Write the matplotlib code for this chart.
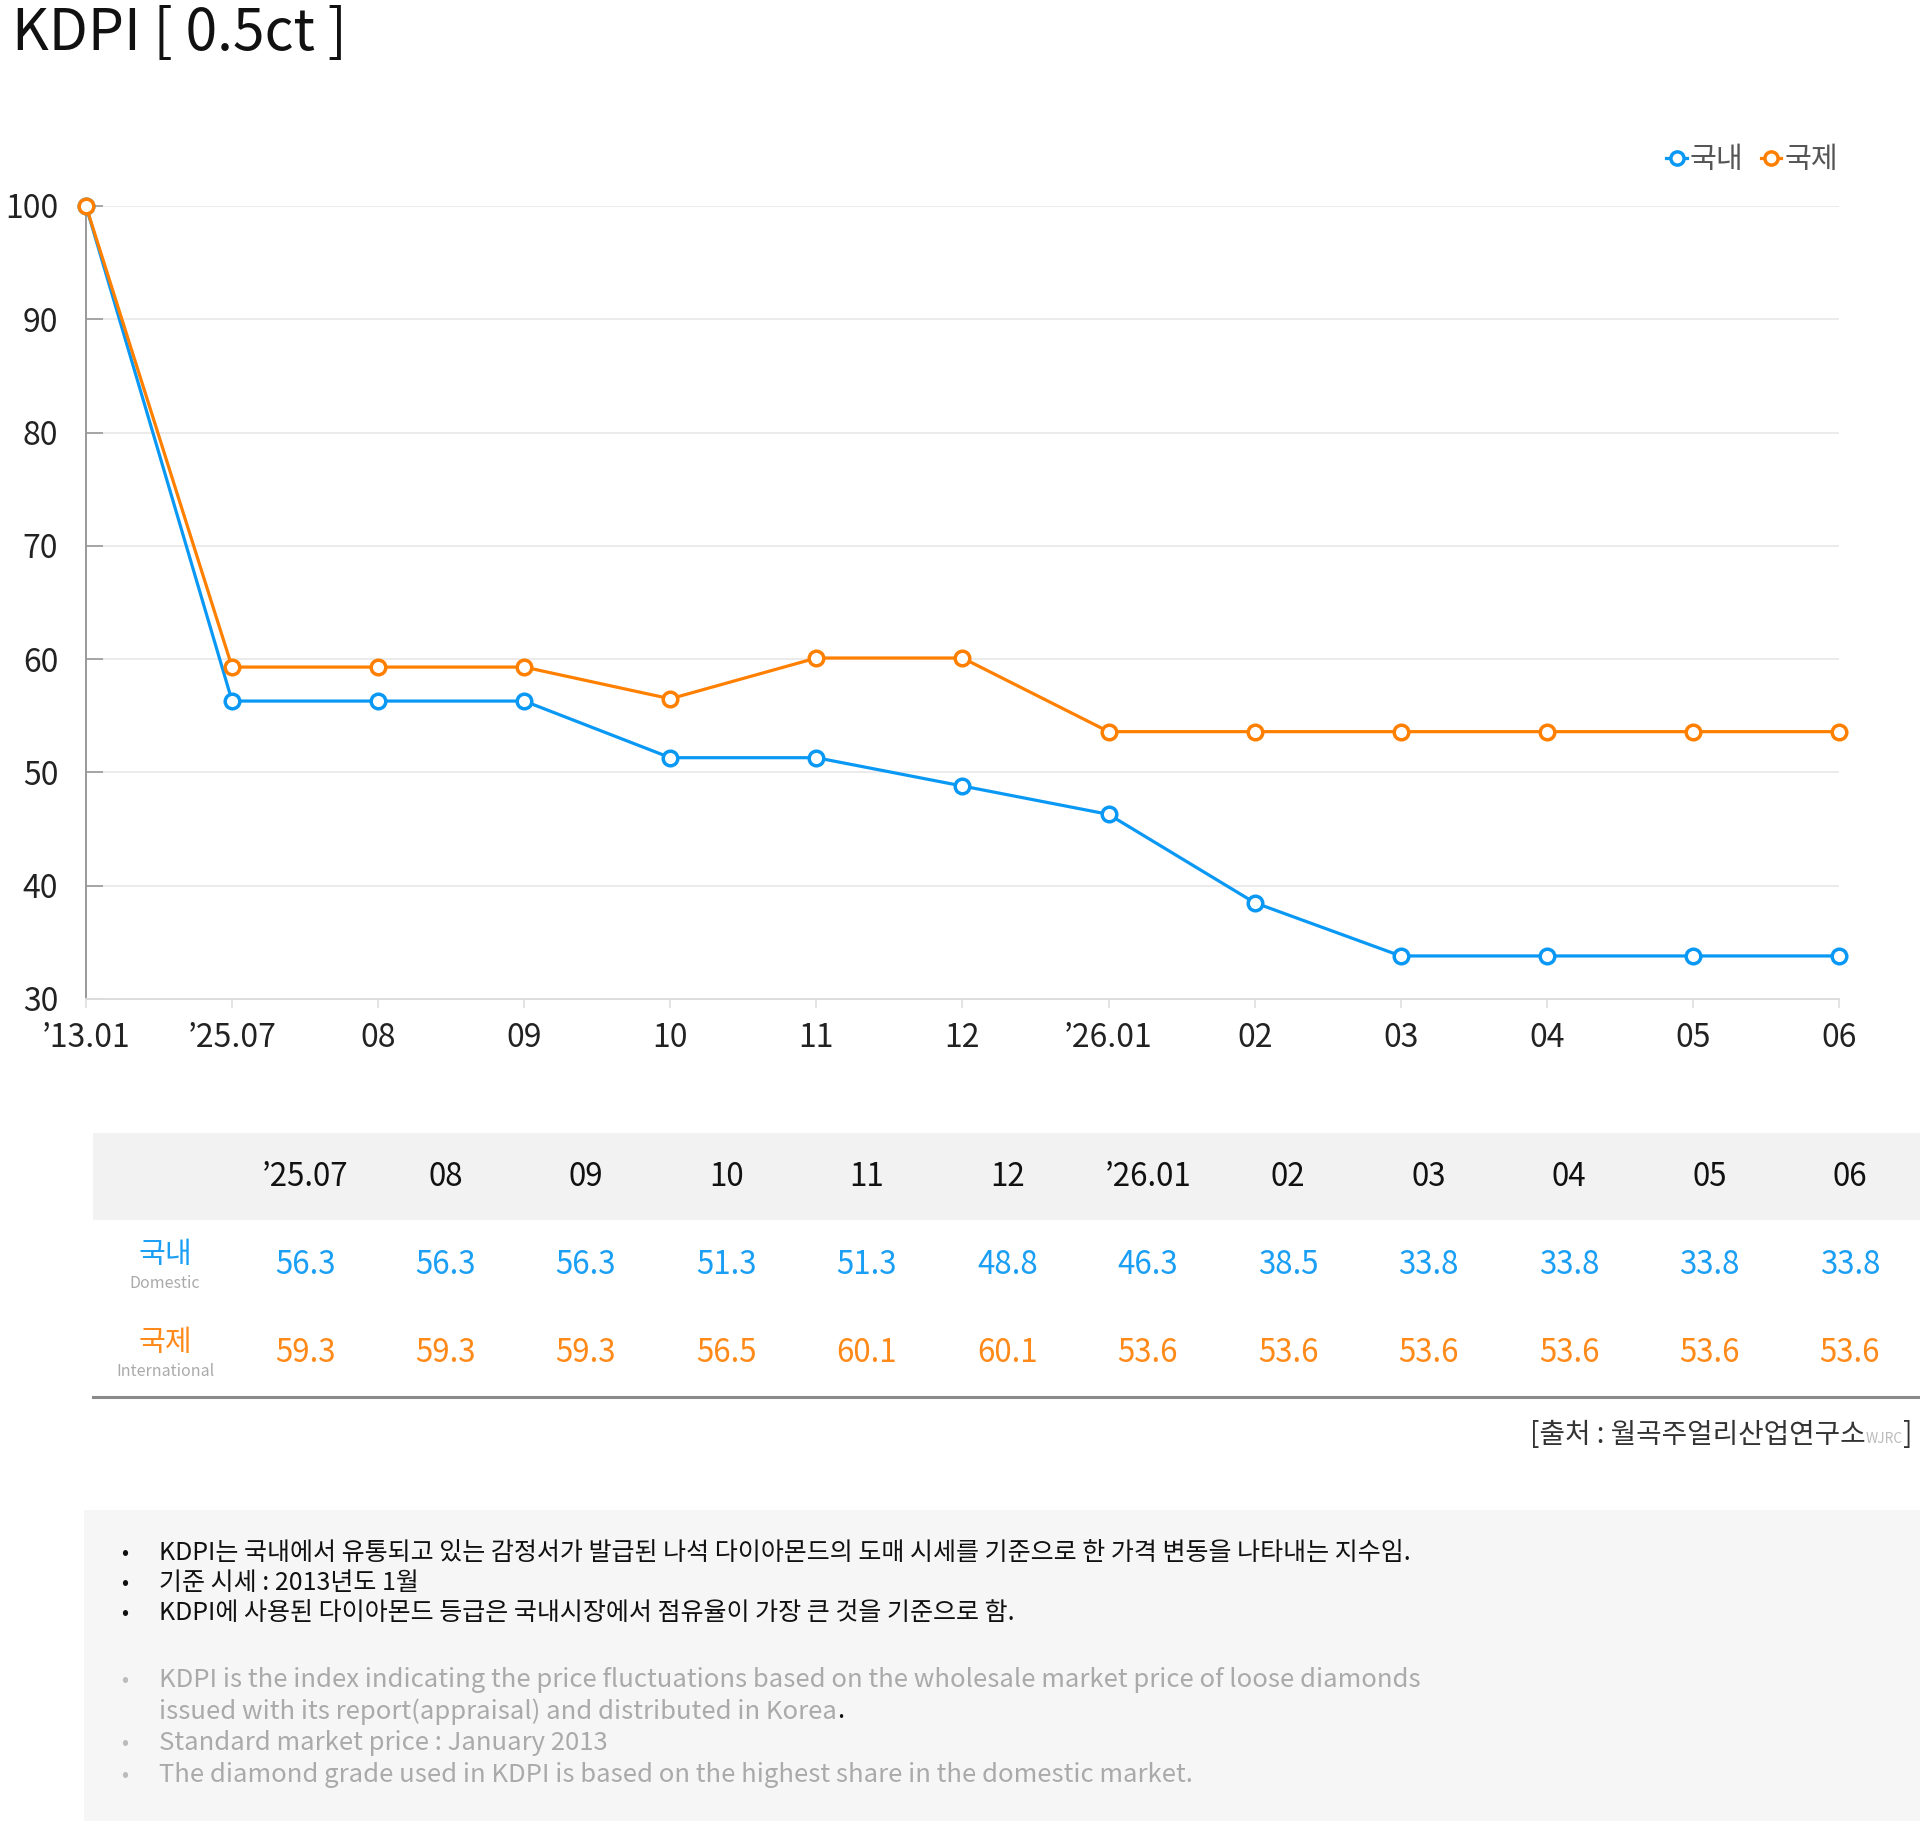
import matplotlib
matplotlib.use('Agg')
import matplotlib.pyplot as plt
from matplotlib.patches import Rectangle
from matplotlib.lines import Line2D

# ---------------- data ----------------
axis_labels = ["’13.01", "’25.07", "08", "09", "10", "11", "12", "’26.01",
               "02", "03", "04", "05", "06"]
domestic = [100, 56.3, 56.3, 56.3, 51.3, 51.3, 48.8, 46.3, 38.5, 33.8, 33.8, 33.8, 33.8]
international = [100, 59.3, 59.3, 59.3, 56.5, 60.1, 60.1, 53.6, 53.6, 53.6, 53.6, 53.6, 53.6]
series_names = ["국내", "국제"]
series_sub = ["Domestic", "International"]
y_ticks = [30, 40, 50, 60, 70, 80, 90, 100]

title = "KDPI [ 0.5ct ]"
source_main = "[출처 : 월곡주얼리산업연구소"
source_small = "WJRC"
notes_ko = ["KDPI는 국내에서 유통되고 있는 감정서가 발급된 나석 다이아몬드의 도매 시세를 기준으로 한 가격 변동을 나타내는 지수임.",
            "기준 시세 : 2013년도 1월",
            "KDPI에 사용된 다이아몬드 등급은 국내시장에서 점유율이 가장 큰 것을 기준으로 함."]
notes_en = [["KDPI is the index indicating the price fluctuations based on the wholesale market price of loose diamonds",
             "issued with its report(appraisal) and distributed in Korea"],
            ["Standard market price : January 2013"],
            ["The diamond grade used in KDPI is based on the highest share in the domestic market."]]

# ---------------- style ----------------
BLUE = "#0a98f5"
ORANGE = "#ff8000"
BLUE_T = "#1a9ff5"
ORANGE_T = "#ff8a1a"

plt.rcParams['font.family'] = ['Noto Sans CJK KR', 'DejaVu Sans']

W, H = 1920, 1821
fig = plt.figure(figsize=(W / 100, H / 100), dpi=100)
fig.patch.set_facecolor('white')


def fx(px):
    return px / W


def fy(py):
    return 1 - py / H


# ---------------- chart ----------------
ax_l, ax_r, ax_t, ax_b = 86, 1839, 206, 999
ax = fig.add_axes([fx(ax_l), fy(ax_b), (ax_r - ax_l) / W, (ax_b - ax_t) / H])
x = list(range(len(axis_labels)))
ax.plot(x, domestic, color=BLUE, lw=2.3, marker='o', ms=10.5, mfc='white',
        mec=BLUE, mew=2.5, clip_on=False, zorder=3, label=series_names[0])
ax.plot(x, international, color=ORANGE, lw=2.3, marker='o', ms=10.5, mfc='white',
        mec=ORANGE, mew=2.5, clip_on=False, zorder=4, label=series_names[1])
ax.set_xlim(0, len(x) - 1)
ax.set_ylim(30, 100)
ax.set_yticks(y_ticks)
ax.set_xticks(x)
ax.set_xticklabels(axis_labels)
ax.set_axisbelow(True)
ax.grid(axis='y', color='#e6e6e6', lw=1.1)
for s in ['top', 'right']:
    ax.spines[s].set_visible(False)
ax.spines['left'].set_color('#999999')
ax.spines['left'].set_linewidth(1.4)
ax.spines['bottom'].set_color('#dddddd')
ax.spines['bottom'].set_linewidth(1.4)
ax.tick_params(axis='y', direction='in', length=12, width=1.2, color='#999999',
               pad=20, labelsize=23, labelcolor='#222222')
ax.tick_params(axis='x', direction='out', length=6.5, width=1.1, color='#dddddd',
               pad=10, labelsize=23, labelcolor='#222222')

leg = fig.legend(loc='center right', bbox_to_anchor=(fx(1838), fy(160)), ncol=2,
                 frameon=False, fontsize=21, handlelength=0.7, handletextpad=0.1,
                 columnspacing=0.6, labelcolor='#555555', borderaxespad=0, borderpad=0)
for h in leg.legend_handles:
    h.set_markersize(9.5)
    h.set_markeredgewidth(2.5)

# ---------------- title ----------------
fig.text(fx(12), fy(34), title, fontsize=41, color='#111111', va='center', ha='left')

# ---------------- table ----------------
fig.add_artist(Rectangle((fx(93), fy(1220)), (W - 93) / W, (1220 - 1133) / H,
                         transform=fig.transFigure, facecolor='#f2f2f2', edgecolor='none'))
fig.add_artist(Line2D([fx(93), 1.0], [fy(1397), fy(1397)], transform=fig.transFigure,
                      color='#8a8a8a', lw=2.2))
col0, colstep = 305, 140.45
for i, lab in enumerate(axis_labels[1:]):
    cx = fx(col0 + i * colstep)
    fig.text(cx, fy(1177), lab, fontsize=22.5, color='#111111', ha='center', va='center')
    fig.text(cx, fy(1265), f"{domestic[i + 1]:.1f}", fontsize=22.5, color=BLUE_T,
             ha='center', va='center')
    fig.text(cx, fy(1353), f"{international[i + 1]:.1f}", fontsize=22.5, color=ORANGE_T,
             ha='center', va='center')

lab_x = 165
fig.text(fx(lab_x), fy(1255), series_names[0], fontsize=21, color=BLUE_T, ha='center', va='center')
fig.text(fx(lab_x), fy(1283), series_sub[0], fontsize=11.5, color='#aaaaaa', ha='center', va='center')
fig.text(fx(lab_x), fy(1343), series_names[1], fontsize=21, color=ORANGE_T, ha='center', va='center')
fig.text(fx(lab_x), fy(1371), series_sub[1], fontsize=11.5, color='#aaaaaa', ha='center', va='center')

# ---------------- source ----------------
renderer = fig.canvas.get_renderer()
inv = fig.transFigure.inverted()
t_close = fig.text(fx(1912), fy(1443), "]", fontsize=20, color='#333333', ha='right', va='baseline')
bb = t_close.get_window_extent(renderer)
left = inv.transform((bb.x0, bb.y0))[0]
t_small = fig.text(left, fy(1443), source_small, fontsize=10, color='#bbbbbb', ha='right', va='baseline')
bb = t_small.get_window_extent(renderer)
left = inv.transform((bb.x0, bb.y0))[0]
fig.text(left, fy(1443), source_main, fontsize=20, color='#333333', ha='right', va='baseline')

# ---------------- notes ----------------
fig.add_artist(Rectangle((fx(84), 0), (W - 84) / W, (H - 1510) / H,
                         transform=fig.transFigure, facecolor='#f6f6f6', edgecolor='none'))
ko_y = [1553, 1583, 1613]
for yy, line in zip(ko_y, notes_ko):
    fig.text(fx(125), fy(yy), "•", fontsize=15, color='#111111', ha='center', va='center')
    fig.text(fx(159), fy(yy), line, fontsize=18, color='#111111', ha='left', va='center')

en_y = 1680
for bullet_lines in notes_en:
    fig.text(fx(125), fy(en_y), "•", fontsize=15, color='#bbbbbb', ha='center', va='center')
    for j, line in enumerate(bullet_lines):
        t = fig.text(fx(159), fy(en_y), line, fontsize=18.5, color='#aaaaaa', ha='left', va='center')
        if line.endswith("Korea"):
            bb = t.get_window_extent(renderer)
            rx = inv.transform((bb.x1, bb.y0))[0]
            fig.text(rx, fy(en_y), ".", fontsize=18.5, color='#111111', ha='left', va='center')
        en_y += 31.5

fig.savefig('out.png', dpi=100, facecolor='white')
